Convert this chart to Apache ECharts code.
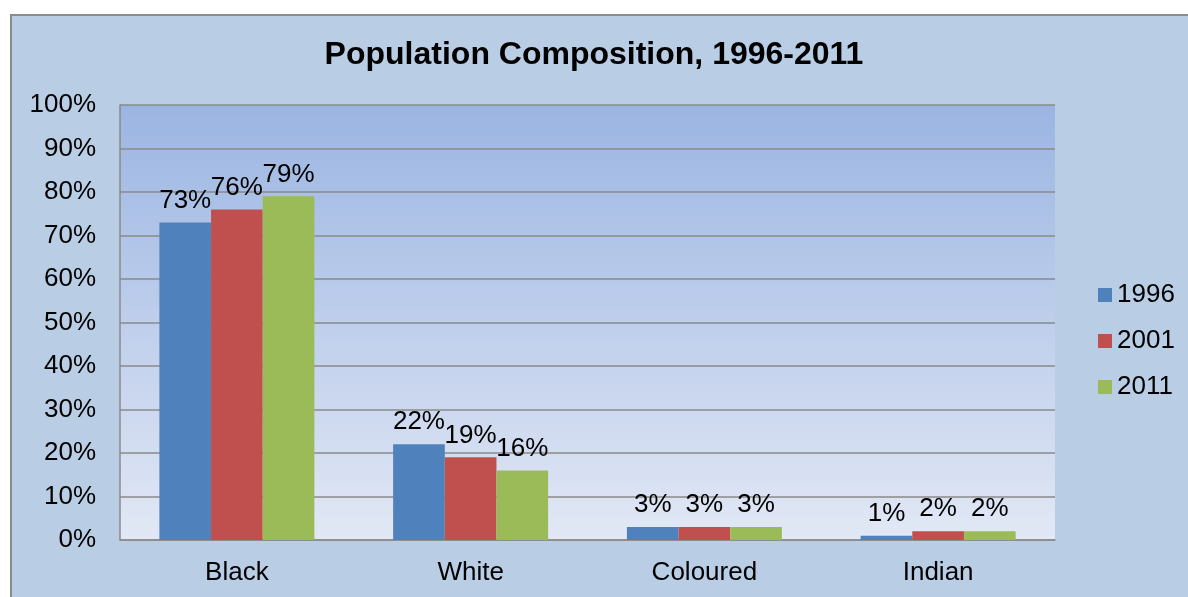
<!DOCTYPE html>
<html>
<head>
<meta charset="utf-8">
<script src="https://cdn.jsdelivr.net/npm/echarts@6/dist/echarts.min.js"></script>
<style>
html,body{margin:0;padding:0;background:#fff;overflow:hidden;}
#frame{position:absolute;left:10px;top:14px;width:1200px;height:600px;background:#B9CDE5;border:2px solid #8c8c8c;box-sizing:border-box;}
#c{position:absolute;left:0;top:0;width:1188px;height:597px;}
</style>
</head>
<body>
<div id="frame"></div>
<div id="c"></div>
<script>
const categories = ['Black', 'White', 'Coloured', 'Indian'];
const seriesNames = ['1996', '2001', '2011'];
const values1996 = [73, 22, 3, 1];
const values2001 = [76, 19, 3, 2];
const values2011 = [79, 16, 3, 2];
const colors = ['#4F81BD', '#C0504D', '#9BBB59'];
const font = 'Liberation Sans, Arial, sans-serif';

const chart = echarts.init(document.getElementById('c'), null, {renderer: 'canvas'});
const allValues = [values1996, values2001, values2011];
chart.setOption({
  backgroundColor: 'transparent',
  animation: false,
  title: {
    text: 'Population Composition, 1996-2011',
    left: 'center',
    top: 34,
    textStyle: {fontFamily: font, fontSize: 32, fontWeight: 'bold', color: '#000'}
  },
  legend: {
    orient: 'vertical',
    left: 1093,
    top: 277,
    itemWidth: 14,
    itemHeight: 14,
    itemGap: 20,
    icon: 'rect',
    data: seriesNames,
    textStyle: {fontFamily: font, fontSize: 26, color: '#000', padding: [0, 0, 0, 0]}
  },
  grid: {
    left: 120, top: 105, width: 935, height: 435,
    show: true,
    borderWidth: 0,
    backgroundColor: {
      type: 'linear', x: 0, y: 0, x2: 0, y2: 1,
      colorStops: [{offset: 0, color: '#9BB5E2'}, {offset: 1, color: '#E2E8F5'}]
    }
  },
  xAxis: {
    type: 'category',
    data: categories,
    axisLine: {show: true, lineStyle: {color: '#8a8a8a', width: 1.5}},
    axisTick: {show: false},
    axisLabel: {fontFamily: font, fontSize: 26, color: '#000', margin: 20}
  },
  yAxis: {
    type: 'value',
    min: 0, max: 100, interval: 10,
    axisLine: {show: true, lineStyle: {color: '#8a8a8a', width: 1.5}},
    axisTick: {show: false},
    splitLine: {show: true, lineStyle: {color: '#8a8a8a', width: 1.5}},
    axisLabel: {fontFamily: font, fontSize: 26, color: '#000', margin: 24, padding: [3, 0, 0, 0], formatter: '{value}%'}
  },
  series: seriesNames.map((n, i) => ({
    name: n,
    type: 'bar',
    data: allValues[i],
    barGap: '0%',
    barCategoryGap: '33.7%',
    itemStyle: {color: colors[i]},
    label: {
      show: true, position: 'top', distance: 9,
      formatter: '{c}%',
      fontFamily: font, fontSize: 26, color: '#000'
    }
  }))
});
</script>
</body>
</html>
